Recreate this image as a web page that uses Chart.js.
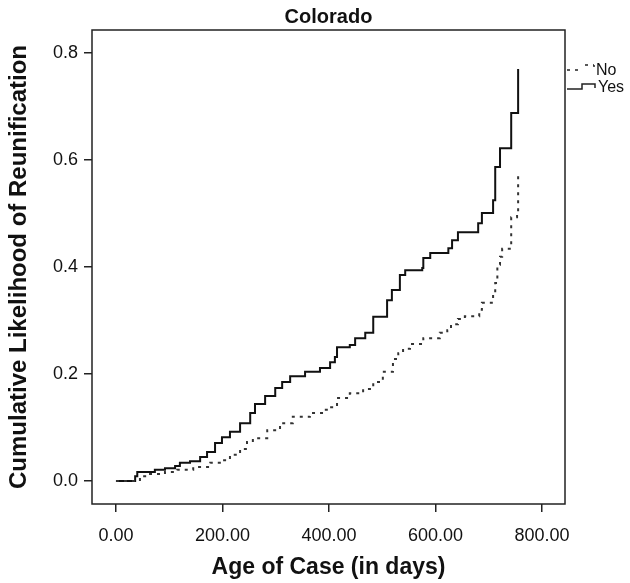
<!DOCTYPE html>
<html>
<head>
<meta charset="utf-8">
<script src="https://cdn.jsdelivr.net/npm/chart.js@4.4.1/dist/chart.umd.min.js"></script>
<style>
  html, body { margin: 0; padding: 0; background: #fff; }
</style>
</head>
<body>
<canvas id="myChart" width="630" height="583"></canvas>
<script>
// Dati (giorni, probabilità cumulata dopo il salto)
const seriesNames = ['No', 'Yes'];

const daysNo = [0, 45, 64, 92, 115, 145, 177, 195, 214, 233, 246, 257, 284, 308, 332, 364, 389, 402, 415, 439, 464, 483, 501, 520, 530, 539, 552, 577, 608, 622, 629, 642, 655, 682, 687, 708, 712, 716, 721, 725, 742, 753, 755];
const valsNo = [0, 0.009, 0.013, 0.017, 0.021, 0.026, 0.034, 0.039, 0.049, 0.060, 0.073, 0.080, 0.095, 0.108, 0.120, 0.127, 0.133, 0.138, 0.155, 0.164, 0.172, 0.185, 0.204, 0.228, 0.239, 0.247, 0.256, 0.267, 0.277, 0.282, 0.293, 0.303, 0.308, 0.320, 0.333, 0.351, 0.370, 0.404, 0.419, 0.434, 0.493, 0.499, 0.578];

const daysYes = [0, 36, 40, 73, 92, 111, 120, 139, 158, 171, 186, 199, 214, 233, 252, 261, 280, 299, 312, 327, 355, 383, 402, 411, 415, 439, 449, 468, 483, 509, 518, 533, 543, 575, 577, 590, 624, 631, 642, 680, 687, 708, 712, 721, 742, 755];
const valsYes = [0, 0.009, 0.017, 0.021, 0.024, 0.028, 0.034, 0.037, 0.045, 0.054, 0.071, 0.082, 0.092, 0.108, 0.127, 0.144, 0.159, 0.174, 0.185, 0.196, 0.204, 0.211, 0.222, 0.232, 0.250, 0.254, 0.267, 0.277, 0.307, 0.338, 0.357, 0.385, 0.394, 0.398, 0.417, 0.426, 0.435, 0.450, 0.465, 0.482, 0.501, 0.525, 0.587, 0.622, 0.688, 0.770];

const xTicks = [0, 200, 400, 600, 800];
const yTicks = [0, 0.2, 0.4, 0.6, 0.8];

Chart.defaults.font.family = "'Liberation Sans', Arial, sans-serif";
Chart.defaults.color = '#111';

function toPoints(xs, ys) {
    return xs.map((d, i) => ({ x: d, y: ys[i] }));
}

// cornice attorno all'area del grafico
const boxPlugin = {
    id: 'box',
    beforeDatasetsDraw(chart) {
        const a = chart.chartArea;
        const c = chart.ctx;
        c.save();
        c.strokeStyle = '#222';
        c.lineWidth = 1.5;
        c.strokeRect(a.left, a.top, a.right - a.left, a.bottom - a.top);
        c.restore();
    }
};

// legenda a destra, con il simbolo a gradino
const legendPlugin = {
    id: 'stepLegend',
    afterDraw(chart) {
        const c = chart.ctx;
        const x0 = chart.chartArea.right + 2;
        c.save();
        c.strokeStyle = '#222';
        c.lineWidth = 1.5;
        // No (tratteggiato)
        c.setLineDash([3, 5]);
        c.beginPath();
        c.moveTo(x0, 70); c.lineTo(x0 + 15, 70);
        c.moveTo(x0 + 18, 65); c.lineTo(x0 + 27, 65);
        c.stroke();
        c.setLineDash([]);
        c.beginPath();
        c.moveTo(x0 + 27, 65); c.lineTo(x0 + 27, 67);
        c.stroke();
        // Yes (continuo)
        c.beginPath();
        c.moveTo(x0, 89); c.lineTo(x0 + 15, 89); c.lineTo(x0 + 15, 84);
        c.lineTo(x0 + 28, 84); c.lineTo(x0 + 28, 88);
        c.stroke();
        c.fillStyle = '#111';
        c.font = "16px 'Liberation Sans', Arial, sans-serif";
        c.textBaseline = 'middle';
        c.fillText(seriesNames[0], x0 + 29, 71);
        c.fillText(seriesNames[1], x0 + 31, 88);
        c.restore();
    }
};

const ctx = document.getElementById('myChart').getContext('2d');
const myChart = new Chart(ctx, {
    type: 'line',
    data: {
        datasets: [{
            label: seriesNames[0],
            data: toPoints(daysNo, valsNo),
            stepped: 'before',
            borderColor: '#333',
            borderWidth: 2,
            borderDash: [3, 5],
            pointRadius: 0,
            fill: false
        }, {
            label: seriesNames[1],
            data: toPoints(daysYes, valsYes),
            stepped: 'before',
            borderColor: '#111',
            borderWidth: 2,
            pointRadius: 0,
            fill: false
        }]
    },
    options: {
        responsive: false,
        animation: false,
        layout: { padding: { left: 0, right: 65, top: 0, bottom: 0 } },
        plugins: {
            legend: { display: false },
            tooltip: { enabled: false },
            title: {
                display: true,
                fullSize: false,
                text: 'Colorado',
                color: '#111',
                font: { size: 20, weight: 'bold' },
                padding: { top: 5, bottom: 1 }
            }
        },
        scales: {
            x: {
                type: 'linear',
                min: -45,
                max: 843,
                afterBuildTicks: s => { s.ticks = xTicks.map(v => ({ value: v })); },
                afterFit: s => { s.height = 79; },
                ticks: {
                    callback: v => v.toFixed(2),
                    font: { size: 18 },
                    color: '#111',
                    padding: 13,
                    maxRotation: 0
                },
                grid: {
                    drawOnChartArea: false,
                    drawTicks: true,
                    tickLength: 8,
                    color: '#222',
                    lineWidth: 1.5
                },
                border: { display: false },
                title: {
                    display: true,
                    text: 'Age of Case (in days)',
                    color: '#111',
                    font: { size: 23, weight: 'bold' },
                    padding: { top: 0, bottom: 2 }
                }
            },
            y: {
                type: 'linear',
                min: -0.043,
                max: 0.843,
                afterBuildTicks: s => { s.ticks = yTicks.map(v => ({ value: v })); },
                afterFit: s => { s.width = 92; },
                ticks: {
                    callback: v => v.toFixed(1),
                    font: { size: 18 },
                    color: '#111',
                    padding: 6
                },
                grid: {
                    drawOnChartArea: false,
                    drawTicks: true,
                    tickLength: 8,
                    color: '#222',
                    lineWidth: 1.5
                },
                border: { display: false },
                title: {
                    display: true,
                    text: 'Cumulative Likelihood of Reunification',
                    color: '#111',
                    font: { size: 24, weight: 'bold' },
                    padding: { top: 5, bottom: 0 }
                }
            }
        }
    },
    plugins: [boxPlugin, legendPlugin]
});
</script>
</body>
</html>
